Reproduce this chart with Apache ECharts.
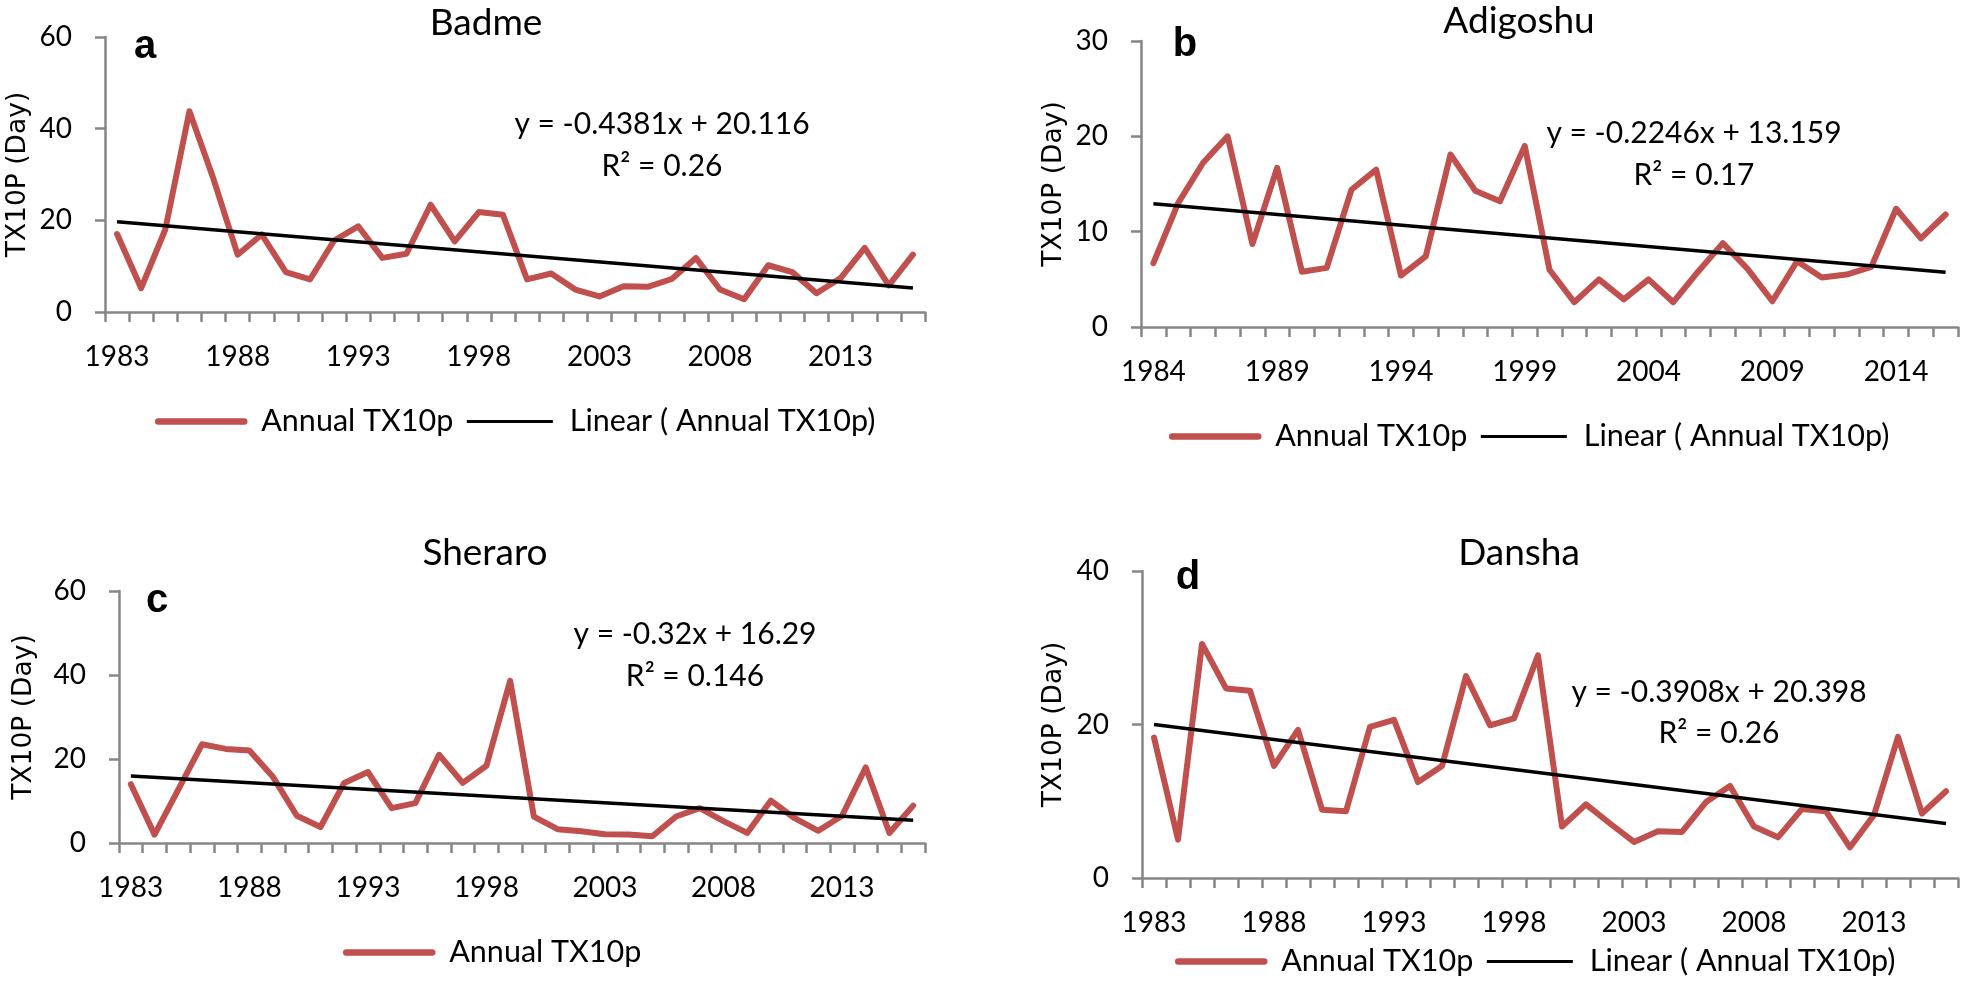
<!DOCTYPE html>
<html>
<head>
<meta charset="utf-8">
<script src="https://cdn.jsdelivr.net/npm/echarts@6/dist/echarts.min.js"></script>
<style>
html,body{margin:0;padding:0;background:#fff}
#main{width:1961px;height:982px}
</style>
</head>
<body>
<div id="main"></div>
<script>
// categories
var yearsFrom1983 = ['1983','1984','1985','1986','1987','1988','1989','1990','1991','1992','1993','1994',
    '1995','1996','1997','1998','1999','2000','2001','2002','2003','2004','2005','2006','2007','2008',
    '2009','2010','2011','2012','2013','2014','2015','2016'];
var yearsFrom1984 = ['1984','1985','1986','1987','1988','1989','1990','1991','1992','1993','1994',
    '1995','1996','1997','1998','1999','2000','2001','2002','2003','2004','2005','2006','2007','2008',
    '2009','2010','2011','2012','2013','2014','2015','2016'];

// annual TX10p (days)
var badme = [17.0,5.2,18.0,43.8,29.0,12.5,16.9,8.7,7.1,15.6,18.7,11.8,12.7,23.4,15.4,21.8,21.2,
    7.1,8.4,4.9,3.4,5.6,5.5,7.2,11.8,4.9,2.8,10.2,8.7,4.1,7.4,14.0,5.8,12.5];
var adigoshu = [6.7,13.0,17.2,20.0,8.7,16.7,5.8,6.2,14.4,16.5,5.4,7.4,18.1,14.3,13.2,19.0,
    6.0,2.6,5.0,2.9,5.0,2.6,5.8,8.8,6.1,2.7,6.9,5.2,5.5,6.3,12.4,9.3,11.8];
var sheraro = [14.0,2.0,12.7,23.5,22.4,22.0,15.7,6.5,3.8,14.3,16.9,8.3,9.5,21.0,14.3,18.4,38.6,
    6.3,3.3,2.8,2.1,2.0,1.6,6.3,8.3,5.2,2.4,10.1,5.9,2.9,6.5,18.0,2.4,8.9];
var dansha = [18.3,5.0,30.5,24.7,24.4,14.6,19.3,8.9,8.7,19.7,20.6,12.5,14.6,26.3,19.9,20.8,29.0,
    6.7,9.6,7.1,4.7,6.1,6.0,9.9,12.0,6.7,5.3,9.0,8.7,4.0,8.2,18.4,8.4,11.3];

// linear trend, value at first and last year
var trendBadme = [19.68, 5.22];
var trendAdigoshu = [12.93, 5.75];
var trendSheraro = [15.97, 5.41];
var trendDansha = [20.01, 7.11];

// equation labels
var eqBadme = ['y = -0.4381x + 20.116', 'R\u00b2 = 0.26'];
var eqAdigoshu = ['y = -0.2246x + 13.159', 'R\u00b2 = 0.17'];
var eqSheraro = ['y = -0.32x + 16.29', 'R\u00b2 = 0.146'];
var eqDansha = ['y = -0.3908x + 20.398', 'R\u00b2 = 0.26'];

var RED = '#C0504D';
var AXIS = '#868686';
var FONT = 'Lato';

var panels = [
    {name: 'Badme', tag: 'a', cats: yearsFrom1983, vals: badme, trend: trendBadme, eq: eqBadme,
        max: 60, step: 20, grid: {left: 105, top: 37, width: 820, height: 275}, nameGap: 73,
        title: [486, 23], tagPos: [145, 47], eqPos: [662, 124, 166], legend: [155, 422], linear: true},
    {name: 'Adigoshu', tag: 'b', cats: yearsFrom1984, vals: adigoshu, trend: trendAdigoshu, eq: eqAdigoshu,
        max: 30, step: 10, grid: {left: 1141, top: 41, width: 817, height: 286}, nameGap: 73,
        title: [1519, 21], tagPos: [1185, 45], eqPos: [1694, 133, 175], legend: [1169, 437], linear: true},
    {name: 'Sheraro', tag: 'c', cats: yearsFrom1983, vals: sheraro, trend: trendSheraro, eq: eqSheraro,
        max: 60, step: 20, grid: {left: 119, top: 591, width: 806, height: 252}, nameGap: 81,
        title: [485, 553], tagPos: [157, 601], eqPos: [695, 634, 676], legend: [343, 953], linear: false},
    {name: 'Dansha', tag: 'd', cats: yearsFrom1983, vals: dansha, trend: trendDansha, eq: eqDansha,
        max: 40, step: 20, grid: {left: 1142, top: 571, width: 816, height: 307}, nameGap: 74,
        title: [1519, 553], tagPos: [1188, 578], eqPos: [1719, 692, 733], legend: [1175, 962], linear: true}
];

var option = {
    animation: false,
    backgroundColor: '#fff',
    grid: [], xAxis: [], yAxis: [], series: [], legend: [], graphic: []
};

panels.forEach(function (p, i) {
    option.grid.push(p.grid);
    option.xAxis.push({
        type: 'category', gridIndex: i, data: p.cats, boundaryGap: true,
        axisLine: {lineStyle: {color: AXIS, width: 2.5}},
        axisTick: {show: true, interval: 0, length: 10, lineStyle: {color: AXIS, width: 2.5}},
        axisLabel: {interval: 4, margin: 31, color: '#000', fontFamily: FONT, fontSize: 28}
    });
    option.yAxis.push({
        type: 'value', gridIndex: i, min: 0, max: p.max, interval: p.step,
        name: 'TX10P (Day)', nameLocation: 'middle', nameRotate: 90, nameGap: p.nameGap,
        nameTextStyle: {color: '#000', fontFamily: 'DejaVu Sans', fontSize: 26.5},
        axisLine: {show: true, lineStyle: {color: AXIS, width: 2.5}},
        axisTick: {show: true, length: 10, lineStyle: {color: AXIS, width: 2.5}},
        axisLabel: {margin: 33, color: '#000', fontFamily: FONT, fontSize: 28},
        splitLine: {show: false}
    });

    // trend line only has its two ends, gap filled by connectNulls
    var trendData = p.cats.map(function () { return null; });
    trendData[0] = p.trend[0];
    trendData[trendData.length - 1] = p.trend[1];

    option.series.push({
        name: 'Annual TX10p', type: 'line', xAxisIndex: i, yAxisIndex: i,
        data: p.vals, symbol: 'none',
        lineStyle: {color: RED, width: 6, join: 'round', cap: 'round'},
        itemStyle: {color: RED}
    });
    option.series.push({
        name: 'Linear ( Annual TX10p)', type: 'line', xAxisIndex: i, yAxisIndex: i,
        data: trendData, connectNulls: true, symbol: 'none',
        lineStyle: {color: '#000', width: 3.5},
        itemStyle: {color: '#000'}
    });

    // legend icon = just the line, hide the dot
    var legendData = [{name: 'Annual TX10p', itemStyle: {opacity: 0},
        lineStyle: {color: RED, width: 6.5, cap: 'round'}}];
    if (p.linear) {
        legendData.push({name: 'Linear ( Annual TX10p)', itemStyle: {opacity: 0},
            lineStyle: {color: '#000', width: 3}});
    }
    option.legend.push({
        left: p.legend[0], top: p.legend[1] - 16, itemWidth: 86, itemHeight: 14, itemGap: 12,
        padding: 0, selectedMode: false, data: legendData,
        textStyle: {color: '#000', fontFamily: FONT, fontSize: 30.5, padding: [0, 0, 0, 12]}
    });

    option.graphic.push({
        type: 'text', x: p.title[0], y: p.title[1],
        style: {text: p.name, fill: '#000', font: '37px ' + FONT, align: 'center', verticalAlign: 'middle'}
    });
    option.graphic.push({
        type: 'text', x: p.tagPos[0], y: p.tagPos[1],
        style: {text: p.tag, fill: '#000', font: 'bold 40px "Liberation Sans"', align: 'center', verticalAlign: 'middle'}
    });
    option.graphic.push({
        type: 'text', x: p.eqPos[0], y: p.eqPos[1],
        style: {text: p.eq[0], fill: '#000', font: '30px ' + FONT, align: 'center', verticalAlign: 'middle'}
    });
    option.graphic.push({
        type: 'text', x: p.eqPos[0], y: p.eqPos[2],
        style: {text: p.eq[1], fill: '#000', font: '30px ' + FONT, align: 'center', verticalAlign: 'middle'}
    });
});

var myChart = echarts.init(document.getElementById('main'));
myChart.setOption(option);
</script>
</body>
</html>
